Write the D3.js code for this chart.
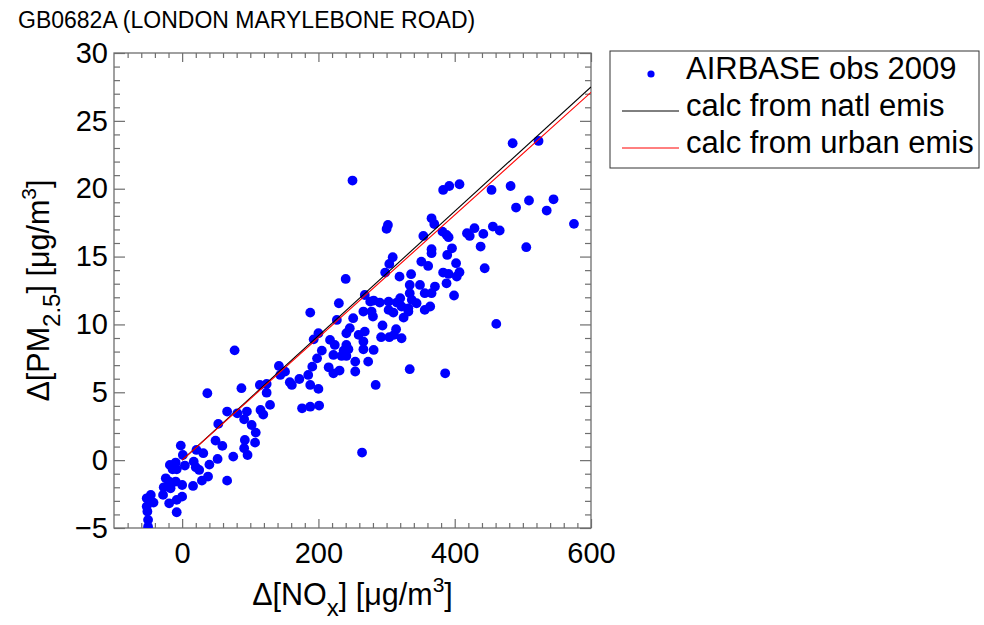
<!DOCTYPE html>
<html>
<head>
<meta charset="utf-8">
<script src="https://cdn.jsdelivr.net/npm/d3@7"></script>
<style>
  body { margin: 0; background: #fff; }
  svg { display: block; }
  text { font-family: "Liberation Sans", Arial, Helvetica, sans-serif; fill: #000; }
</style>
</head>
<body>
<svg id="chart" width="984" height="625"></svg>
<script>
// Station daily increments: ΔNOx vs ΔPM2.5 (µg/m3)
const noxObs = [
  37, 87, 114, 115, 119, 66, 81, 95, 91, 53, 102, 108, 49, 59, 92, 91, 96, 107, 75, 52,
  40, 21, 31, -2, 1, -9.5, -18, -14, -8, 4, 17, 20, 25, 38, 29, 16, 66, -24, -19, -9.5,
  -27, -17, 0, -28, -19, -8, 0, -8, -52, -46, -42, -52, -51, -50, -50,
  188, 230, 77, 227, 200, 193, 217, 224, 205, 222, 198, 191, 215, 222, 231, 142, 151, 144, 185, 172,
  158, 161, 188, 200, 124, 124, 129, 176, 188, 201,
  250, 302, 300, 309, 304, 298, 319, 336, 240,
  485, 523, 383, 392, 407, 454, 482, 509, 545, 490, 535, 575, 366, 370, 354, 382, 388, 391, 418, 422,
  429, 442, 456, 466, 438, 505, 444, 366, 366, 396, 389, 402, 351, 361, 407, 383, 391, 403,
  251, 268, 266, 278, 280, 281, 290, 303, 303, 310, 320, 322, 325, 332, 334, 334, 344, 349, 356, 366,
  371, 356, 364, 388, 399, 294, 246, 241, 259, 268, 266, 292, 304, 314, 322, 311, 266, 281, 241, 237,
  244, 234, 241, 254, 273, 254, 334, 386, 284, 264, 461, 337, 332, 315, 276
];
const pm25Obs = [
  4.93, 5.30, 5.54, 3.70, 3.36, 3.58, 3.45, 3.58, 3.01, 2.67, 2.59, 2.03, 1.44, 1.05, 1.49, 0.88, 0.38, 1.29, 0.26, 0.09,
  -0.33, 0.75, 0.51, 1.07, 0.38, -0.18, -0.35, -0.67, -0.67, -0.40, -0.11, -0.52, -0.72, -1.21, -1.51, -1.90, -1.51, -1.34, -1.58, -1.58,
  -2.00, -2.07, -1.83, -2.56, -3.18, -2.93, -2.69, -3.84, -2.81, -2.56, -3.13, -3.42, -3.79, -4.40, -4.90,
  10.87, 11.56, 8.09, 10.33, 9.35, 8.90, 8.86, 8.49, 8.07, 7.75, 7.50, 6.89, 6.84, 6.40, 6.60, 6.94, 6.52, 6.28, 6.28, 5.98,
  5.74, 5.54, 5.54, 5.25, 5.61, 4.97, 4.07, 3.82, 3.94, 4.02,
  20.60, 17.33, 17.04, 14.95, 14.46, 13.82, 13.52, 13.70, 13.35,
  23.35, 23.52, 19.91, 20.20, 20.33, 19.91, 20.20, 19.13, 19.22, 18.61, 18.39, 17.41, 17.82, 17.40, 16.52, 16.84, 16.60, 16.43, 16.72, 16.52,
  17.09, 16.67, 17.21, 16.92, 15.74, 15.69, 14.14, 15.54, 15.25, 15.61, 15.12, 14.51, 14.63, 14.31, 13.85, 13.82, 13.72, 13.53,
  10.46, 12.17, 10.95, 10.95, 10.58, 11.76, 11.61, 11.68, 11.07, 10.87, 11.93, 11.32, 10.50, 10.95, 12.30, 12.91, 11.56, 12.91, 12.30, 12.30,
  12.79, 11.07, 11.32, 13.03, 12.13, 9.92, 9.72, 9.35, 9.23, 9.47, 8.74, 9.06, 9.06, 9.65, 8.98, 9.23, 8.17, 8.12, 8.49, 8.07,
  8.17, 7.68, 7.68, 7.26, 7.26, 6.53, 6.70, 6.40, 5.54, 0.56, 10.04, 11.81, 11.19, 11.61, 11.68
];

// Calculated relations (end points in data units)
const calcNox   = [0, 600];
const calcNatl  = [0, 27.5];
const calcUrban = [0, 27.1];

const xTickValues = [0, 200, 400, 600];
const yTickValues = [-5, 0, 5, 10, 15, 20, 25, 30];
const legendLabels = ["AIRBASE obs 2009", "calc from natl emis", "calc from urban emis"];
const titleText = "GB0682A (LONDON MARYLEBONE ROAD)";

const svg = d3.select("#chart");
const plot = { left: 114, top: 53, right: 591, bottom: 528 };

const x = d3.scaleLinear().domain([-100, 600]).range([plot.left, plot.right]);
const y = d3.scaleLinear().domain([-5, 30]).range([plot.bottom, plot.top]);

const axisColor = "#6e6e6e";
const tickFont = 29;
const labelFont = 30.5;

svg.append("defs").append("clipPath").attr("id", "plotclip")
  .append("rect")
  .attr("x", plot.left).attr("y", plot.top)
  .attr("width", plot.right - plot.left).attr("height", plot.bottom - plot.top);

// Title
svg.append("text")
  .attr("x", 18).attr("y", 28)
  .style("font-size", "23px")
  .text(titleText);

// Axes: minor and major ticks on all four sides, pointing inward
const minorX = d3.range(-80, 600, 20).filter(v => v % 200 !== 0);
const minorY = d3.range(-4, 30, 1).filter(v => v % 5 !== 0);

function styleAxis(g) {
  g.select(".domain").remove();
  g.selectAll(".tick line").attr("stroke", axisColor).attr("stroke-width", 1.2);
}

svg.append("g").attr("transform", `translate(0,${plot.bottom})`)
  .call(d3.axisBottom(x).tickValues(minorX).tickSize(-5).tickFormat(""))
  .call(styleAxis);
svg.append("g").attr("transform", `translate(0,${plot.top})`)
  .call(d3.axisTop(x).tickValues(minorX).tickSize(-5).tickFormat(""))
  .call(styleAxis);
svg.append("g").attr("transform", `translate(0,${plot.top})`)
  .call(d3.axisTop(x).tickValues(xTickValues).tickSize(-9).tickFormat(""))
  .call(styleAxis);
const xAxis = svg.append("g").attr("transform", `translate(0,${plot.bottom})`)
  .call(d3.axisBottom(x).tickValues(xTickValues).tickSize(-9).tickPadding(14).tickFormat(d3.format("d")))
  .call(styleAxis);
xAxis.selectAll(".tick text")
  .attr("fill", "#000")
  .style("font-size", tickFont + "px")
  .style("font-family", "'Liberation Sans', Arial, sans-serif");

svg.append("g").attr("transform", `translate(${plot.left},0)`)
  .call(d3.axisLeft(y).tickValues(minorY).tickSize(-6).tickFormat(""))
  .call(styleAxis);
svg.append("g").attr("transform", `translate(${plot.right},0)`)
  .call(d3.axisRight(y).tickValues(minorY).tickSize(-6).tickFormat(""))
  .call(styleAxis);
svg.append("g").attr("transform", `translate(${plot.right},0)`)
  .call(d3.axisRight(y).tickValues(yTickValues).tickSize(-11).tickFormat(""))
  .call(styleAxis);
const yAxis = svg.append("g").attr("transform", `translate(${plot.left},0)`)
  .call(d3.axisLeft(y).tickValues(yTickValues).tickSize(-11).tickPadding(6).tickFormat(d3.format("d")))
  .call(styleAxis);
yAxis.selectAll(".tick text")
  .attr("fill", "#000")
  .style("font-size", tickFont + "px")
  .style("font-family", "'Liberation Sans', Arial, sans-serif");

// Frame
svg.append("rect")
  .attr("x", plot.left).attr("y", plot.top)
  .attr("width", plot.right - plot.left).attr("height", plot.bottom - plot.top)
  .attr("fill", "none").attr("stroke", axisColor).attr("stroke-width", 1.3);

// Observations
const obs = noxObs.map((v, i) => ({ nox: v, pm: pm25Obs[i] }));
svg.append("g").attr("clip-path", "url(#plotclip)")
  .selectAll("circle").data(obs).join("circle")
  .attr("cx", d => x(d.nox))
  .attr("cy", d => y(d.pm))
  .attr("r", 4.9)
  .attr("fill", "#0000ff");

// Calculated lines
const line = d3.line().x(d => x(d[0])).y(d => y(d[1]));
const lines = svg.append("g").attr("clip-path", "url(#plotclip)");
lines.append("path")
  .datum(calcNox.map((v, i) => [v, calcNatl[i]]))
  .attr("d", line).attr("fill", "none").attr("stroke", "#000").attr("stroke-width", 1.1);
lines.append("path")
  .datum(calcNox.map((v, i) => [v, calcUrban[i]]))
  .attr("d", line).attr("fill", "none").attr("stroke", "#ff0000").attr("stroke-width", 1.1);

// Axis titles
const xt = svg.append("text")
  .attr("x", (plot.left + plot.right) / 2).attr("y", 605)
  .attr("text-anchor", "middle")
  .style("font-size", labelFont + "px");
xt.append("tspan").text("Δ[NO");
xt.append("tspan").attr("dy", 11).style("font-size", "24px").text("x");
xt.append("tspan").attr("dy", -11).text("] [μg/m");
xt.append("tspan").attr("dy", -13).style("font-size", "21px").text("3");
xt.append("tspan").attr("dy", 13).text("]");

const yt = svg.append("text")
  .attr("transform", `translate(49,${(plot.top + plot.bottom) / 2}) rotate(-90)`)
  .attr("text-anchor", "middle")
  .style("font-size", labelFont + "px");
yt.append("tspan").text("Δ[PM");
yt.append("tspan").attr("dy", 11).style("font-size", "24px").text("2.5");
yt.append("tspan").attr("dy", -11).text("] [μg/m");
yt.append("tspan").attr("dy", -13).style("font-size", "21px").text("3");
yt.append("tspan").attr("dy", 13).text("]");

// Legend
const lg = svg.append("g");
lg.append("rect")
  .attr("x", 610).attr("y", 51).attr("width", 369).attr("height", 117)
  .attr("fill", "#fff").attr("stroke", "#333").attr("stroke-width", 1);
const rowBase = [79, 116, 153];
lg.append("circle").attr("cx", 651).attr("cy", rowBase[0] - 5).attr("r", 3.6).attr("fill", "#0000ff");
lg.append("line").attr("x1", 622).attr("x2", 679).attr("y1", rowBase[1] - 5).attr("y2", rowBase[1] - 5)
  .attr("stroke", "#000").attr("stroke-width", 1);
lg.append("line").attr("x1", 622).attr("x2", 679).attr("y1", rowBase[2] - 5).attr("y2", rowBase[2] - 5)
  .attr("stroke", "#ff0000").attr("stroke-width", 1);
lg.selectAll("text.lab").data(legendLabels).join("text")
  .attr("class", "lab")
  .attr("x", 686).attr("y", (d, i) => rowBase[i])
  .style("font-size", "31px")
  .text(d => d);
</script>
</body>
</html>
